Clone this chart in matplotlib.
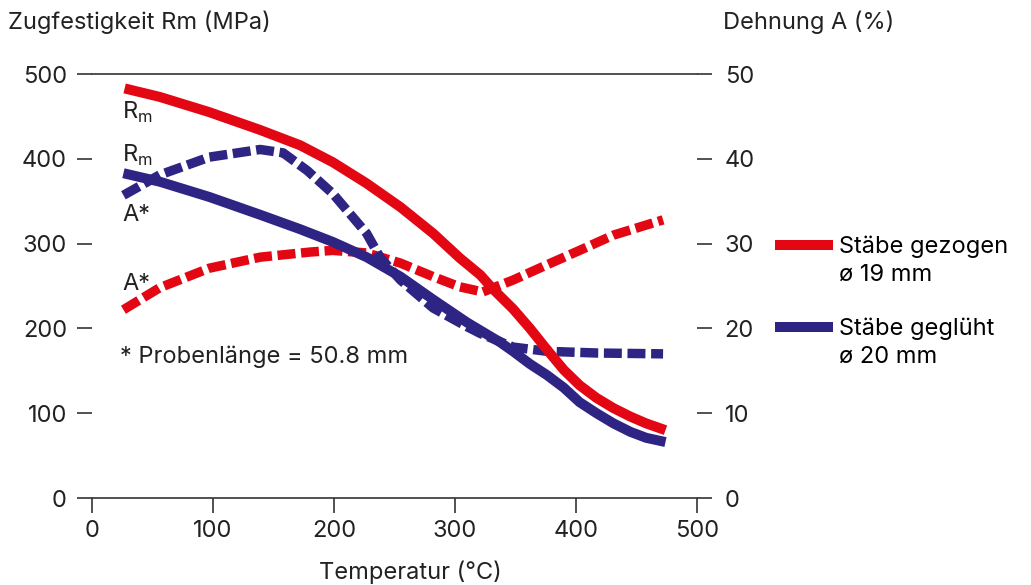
import numpy as np
import matplotlib
matplotlib.use("Agg")
import matplotlib.pyplot as plt
from matplotlib.lines import Line2D

plt.rcParams['font.family'] = ['Inter', 'DejaVu Sans']
plt.rcParams['mathtext.fontset'] = 'custom'
plt.rcParams['mathtext.rm'] = 'Inter'

# Zugfestigkeit Rm (MPa)
temp_rm_gez = [27, 56, 97, 139, 172, 199, 227, 255, 282, 304, 321, 331, 348, 362,
               376, 390, 403, 417, 431, 445, 458, 474]
rm_gez = [483, 473, 455, 434, 416, 396, 371, 343, 312, 283, 263, 247, 223, 200,
          175, 151, 133, 118, 106, 96, 88, 80]

temp_rm_gegl = [26, 56, 97, 139, 172, 199, 227, 255, 282, 310, 337, 348, 362, 376,
                390, 403, 417, 431, 445, 458, 474]
rm_gegl = [383, 373, 355, 334, 317, 302, 284, 261, 234, 207, 184, 173, 158, 145,
           130, 113, 100, 88, 78, 71, 66]

# Dehnung A (%)
temp_a_gez = [26, 56, 97, 139, 180, 199, 227, 255, 282, 304, 323, 348, 376, 403,
              431, 472]
a_gez = [22.2, 24.8, 27.1, 28.4, 29.0, 29.2, 28.9, 27.7, 26.1, 24.9, 24.3, 25.7,
         27.5, 29.2, 31.0, 32.8]

temp_a_gegl = [26, 56, 97, 139, 158, 178, 199, 227, 238, 255, 282, 310, 321, 348,
               376, 417, 472]
a_gegl = [35.7, 38.1, 40.2, 41.1, 40.7, 38.6, 35.9, 31.2, 28.4, 25.7, 22.4, 20.2,
          19.4, 17.8, 17.3, 17.1, 17.0]

red = '#e30613'
blue = '#2e2483'
dark = '#333333'
txt = '#222222'
fs = 17

fig = plt.figure(figsize=(10.31, 5.85), dpi=100)
ax = fig.add_axes([0.0892, 0.1487, 0.5868, 0.7248])
ax2 = ax.twinx()

ax.set_zorder(2)
ax2.set_zorder(1)
ax.patch.set_visible(False)
ax2.set_facecolor('#ebebeb')

dash = (0, (1.9, 0.6))
ax2.plot(temp_a_gez, a_gez, color=red, lw=6.8, ls=dash, solid_capstyle='butt')
ax2.plot(temp_a_gegl, a_gegl, color=blue, lw=6.8, ls=dash, solid_capstyle='butt')
ax.plot(temp_rm_gegl, rm_gegl, color=blue, lw=7.2, solid_capstyle='butt')
ax.plot(temp_rm_gez, rm_gez, color=red, lw=7.2, solid_capstyle='butt')

ax.set_xlim(0, 500)
ax.set_ylim(0, 500)
ax2.set_ylim(0, 50)
ax.set_xticks(range(0, 501, 100))
ax.set_yticks(range(0, 501, 100))
ax2.set_yticks(range(0, 51, 10))

ax2.grid(True, color='white', lw=1.2)
ax2.set_axisbelow(True)

for s in ['left', 'right']:
    ax.spines[s].set_visible(False)
for s in ax2.spines.values():
    s.set_visible(False)
for s in ['top', 'bottom']:
    ax.spines[s].set_color(dark)
    ax.spines[s].set_linewidth(1.2)

ax.tick_params(axis='both', direction='out', length=11, width=1.2, color=dark,
               labelsize=fs, labelcolor=txt, pad=7)
ax.tick_params(axis='x', pad=5)
ax2.tick_params(axis='y', direction='out', length=11, width=1.2, color=dark,
                labelsize=fs, labelcolor=txt, pad=9)

# curve labels
lbl = dict(fontsize=fs, color=txt, va='center', ha='left')
ax.text(25, 455, r'R$_\mathrm{m}$', **lbl)
ax.text(25, 404, r'R$_\mathrm{m}$', **lbl)
ax.text(25, 334, 'A*', **lbl)
ax.text(25, 252, 'A*', **lbl)
ax.text(23, 166, '* Probenlänge = 50.8 mm', **lbl)

fig.text(0.008, 0.962, 'Zugfestigkeit Rm (MPa)', fontsize=fs, color=txt, va='center')
fig.text(0.701, 0.962, 'Dehnung A (%)', fontsize=fs, color=txt, va='center')
fig.text(0.398, 0.022, 'Temperatur (°C)', fontsize=fs, color=txt, ha='center', va='center')

handles = [
    Line2D([], [], color=red, lw=7.2),
    Line2D([], [], color='none'),
    Line2D([], [], color='none'),
    Line2D([], [], color=blue, lw=7.2),
    Line2D([], [], color='none'),
]
labels = ['Stäbe gezogen', 'ø 19 mm', '', 'Stäbe geglüht', 'ø 20 mm']
fig.legend(handles, labels, loc='upper left', bbox_to_anchor=(0.757, 0.597),
           frameon=False, fontsize=fs, handlelength=2.0, handletextpad=0.5,
           labelspacing=0.22, borderpad=0, borderaxespad=0)

fig.savefig('out.png', dpi=100)
